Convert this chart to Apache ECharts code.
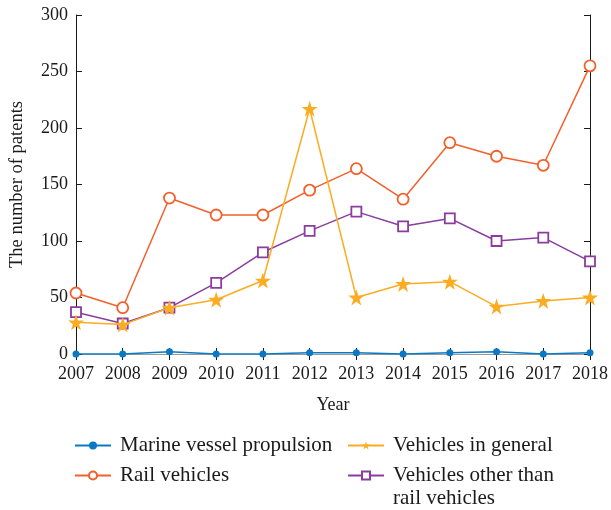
<!DOCTYPE html>
<html>
<head>
<meta charset="utf-8">
<script src="https://cdn.jsdelivr.net/npm/echarts@6/dist/echarts.min.js"></script>
<style>
  html, body { margin: 0; padding: 0; background: #fff; }
  #chart { width: 611px; height: 510px; }
</style>
</head>
<body>
<div id="chart"></div>
<script>
// Patent counts per year by vehicle category
const years = ['2007', '2008', '2009', '2010', '2011', '2012', '2013', '2014', '2015', '2016', '2017', '2018'];
const marineVessel = [0, 0, 2, 0, 0, 1, 1, 0, 1, 2, 0, 1];
const railVehicles = [54, 41, 138, 123, 123, 145, 164, 137, 187, 175, 167, 255];
const vehiclesGeneral = [28, 26, 41, 48, 65, 217, 50, 62, 64, 42, 47, 50];
const vehiclesOther = [37, 27, 41, 63, 90, 109, 126, 113, 120, 100, 103, 82];
const yTicks = [0, 50, 100, 150, 200, 250, 300];

const NAME_MARINE = 'Marine vessel propulsion';
const NAME_RAIL = 'Rail vehicles';
const NAME_GENERAL = 'Vehicles in general';
const NAME_OTHER = 'Vehicles other than\nrail vehicles';

const FONT = '"Liberation Serif", "DejaVu Serif", serif';
const STAR = 'path://M50,0 L61.8,35.4 L99,35.4 L69,57.3 L80.4,92.7 L50,70.8 L19.6,92.7 L31,57.3 L1,35.4 L38.2,35.4 Z';

const C_BLUE = '#0a78c2';
const C_RED = '#f2602b';
const C_YELLOW = '#fcac22';
const C_PURPLE = '#8a3d9e';
const C_TEXT = '#1a1a1a';

const chart = echarts.init(document.getElementById('chart'), null, { renderer: 'canvas' });

// One legend block per entry so the two-column arrangement stays fixed.
// A two-line label gets a blank line on top, so the icon (centred on the
// text block) sits level with the label's first line.
function legendEntry(name, left, top) {
  const twoLine = name.indexOf('\n') >= 0;
  return {
    data: [name], orient: 'vertical', left: left, top: top,
    itemWidth: 36, itemHeight: 10, itemGap: 0, padding: 0,
    formatter: n => (twoLine ? ' \n' + n : n),
    textStyle: { fontFamily: FONT, fontSize: 21, color: C_TEXT, lineHeight: 23, padding: [0, 0, 0, 4] }
  };
}

chart.setOption({
  animation: false,
  backgroundColor: '#fff',
  grid: { left: 75, right: 19, top: 15, bottom: 156, containLabel: false },
  legend: [
    legendEntry(NAME_MARINE, 74, 434),
    legendEntry(NAME_RAIL, 74, 464),
    legendEntry(NAME_GENERAL, 347, 434),
    legendEntry(NAME_OTHER, 347, 441)
  ],
  xAxis: [
    {
      type: 'category', data: years, boundaryGap: false,
      name: 'Year', nameLocation: 'middle', nameGap: 42,
      nameTextStyle: { fontFamily: FONT, fontSize: 18, color: C_TEXT },
      axisLine: { lineStyle: { color: '#999', width: 1 } },
      axisTick: { inside: true, length: 6, alignWithLabel: true, interval: 0, lineStyle: { color: C_TEXT } },
      axisLabel: { fontFamily: FONT, fontSize: 18, color: C_TEXT, margin: 11, interval: 0 },
      splitLine: { show: false }
    },
    {
      type: 'category', data: years, boundaryGap: false, position: 'top',
      axisLine: { lineStyle: { color: '#999', width: 1.2 } },
      axisTick: { inside: true, length: 6, interval: 0, lineStyle: { color: C_TEXT } },
      axisLabel: { show: false },
      splitLine: { show: false }
    }
  ],
  yAxis: [
    {
      type: 'value', min: 0, max: 300, interval: 50,
      name: 'The number of patents', nameLocation: 'middle', nameGap: 49,
      nameTextStyle: { fontFamily: FONT, fontSize: 18.5, color: C_TEXT },
      axisLine: { show: true, lineStyle: { color: C_TEXT, width: 1 } },
      axisTick: { show: true, inside: true, length: 6, lineStyle: { color: C_TEXT } },
      axisLabel: {
        fontFamily: FONT, fontSize: 18, color: C_TEXT, margin: 8,
        formatter: v => (yTicks.includes(v) ? String(v) : '')
      },
      splitLine: { show: false }
    },
    {
      type: 'value', min: 0, max: 300, interval: 50, position: 'right',
      axisLine: { show: true, lineStyle: { color: C_TEXT, width: 1 } },
      axisTick: { show: true, inside: true, length: 6, lineStyle: { color: C_TEXT } },
      axisLabel: { show: false },
      splitLine: { show: false }
    }
  ],
  series: [
    {
      name: NAME_RAIL, type: 'line', data: railVehicles,
      symbol: 'circle', symbolSize: 11, showAllSymbol: true,
      lineStyle: { color: C_RED, width: 1.5 },
      itemStyle: { color: '#fff', borderColor: C_RED, borderWidth: 1.8 },
      z: 3
    },
    {
      name: NAME_OTHER, type: 'line', data: vehiclesOther,
      symbol: 'rect', symbolSize: 10, showAllSymbol: true,
      lineStyle: { color: C_PURPLE, width: 1.5 },
      itemStyle: { color: '#fff', borderColor: C_PURPLE, borderWidth: 1.8 },
      z: 4
    },
    {
      name: NAME_GENERAL, type: 'line', data: vehiclesGeneral,
      symbol: STAR, symbolSize: 16, showAllSymbol: true,
      lineStyle: { color: C_YELLOW, width: 1.5 },
      itemStyle: { color: C_YELLOW, borderColor: C_YELLOW, borderWidth: 0 },
      z: 5
    },
    {
      name: NAME_MARINE, type: 'line', data: marineVessel,
      symbol: 'circle', symbolSize: 7, showAllSymbol: true,
      lineStyle: { color: C_BLUE, width: 1.5 },
      itemStyle: { color: C_BLUE, borderColor: C_BLUE, borderWidth: 0 },
      z: 6
    }
  ]
});
</script>
</body>
</html>
